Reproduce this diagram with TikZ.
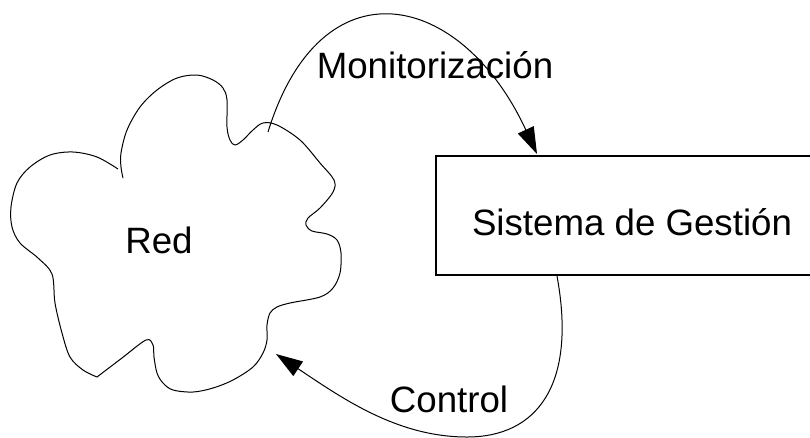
\documentclass[tikz,border=0pt]{standalone}
\usepackage{fontspec}
\setmainfont{Liberation Sans}
\usetikzlibrary{arrows.meta}
\tikzset{
  lbl/.style={font=\fontsize{27.5pt}{33pt}\selectfont, inner sep=0pt, anchor=base},
  cloudline/.style={line width=0.75pt, line join=round},
  flow/.style={line width=0.75pt, -{Triangle[length=20pt,width=13pt]}},
  sysbox/.style={draw, line width=1.5pt, minimum width=294pt, minimum height=89.5pt,
     text height=29.25pt, text depth=0pt, inner sep=0pt,
     font=\fontsize{27.5pt}{33pt}\selectfont}
}
\begin{document}
\begin{tikzpicture}[x=0.75pt,y=-0.75pt]
\useasboundingbox (0,0) rectangle (810,437);
\clip (0,0) rectangle (810,437);
% cloud
\draw[cloudline] plot[smooth, tension=0.55] coordinates {(118,169) (97,157) (73,152) (50,155) (30,167) (17,183) (11,207) (12,227) (20,243) (38,258) (52,274) (55,303) (62,333) (70,357) (83,370) (97,377)};
\draw[cloudline] plot[smooth, tension=0.55] coordinates {(97,377) (122,358) (146,340) (153,345) (154,357) (157,373) (163,383) (173,390) (193,392) (213,388) (233,380) (253,367) (263,353) (267,340) (267,325) (270,313) (277,307) (290,303) (320,297) (333,288) (340,273) (341,253) (337,240) (327,234) (312,231) (306,225) (308,218) (320,208) (333,192) (334,180) (320,163) (300,140) (277,125) (263,123) (253,130) (243,140) (235,145) (230,140) (227,127) (227,100) (223,88) (213,80) (197,75) (177,78) (157,90) (140,107) (127,130) (121,153) (121,167) (123,178)};
\node[lbl] (red) at (159,253) {Red};
% system box
\node[sysbox] (sys) at (632,215.5) {Sistema de Gestión};
% arrows
\coordinate (mstart) at (268,132);
\coordinate (mend) at (537,154);
\coordinate (cstart) at (557,276);
\coordinate (cmid) at (467,437);
\coordinate (cend) at (276,354);
\draw[flow] (mstart) .. controls (321,-40) and (461,-10) .. (mend);
\draw[flow] (cstart) .. controls (577,385) and (537,437) .. (cmid) .. controls (397,437) and (342,398) .. (cend);
\node[lbl] (mon) at (435,78) {Monitorización};
\node[lbl] (ctl) at (449,412) {Control};
\end{tikzpicture}
\end{document}
